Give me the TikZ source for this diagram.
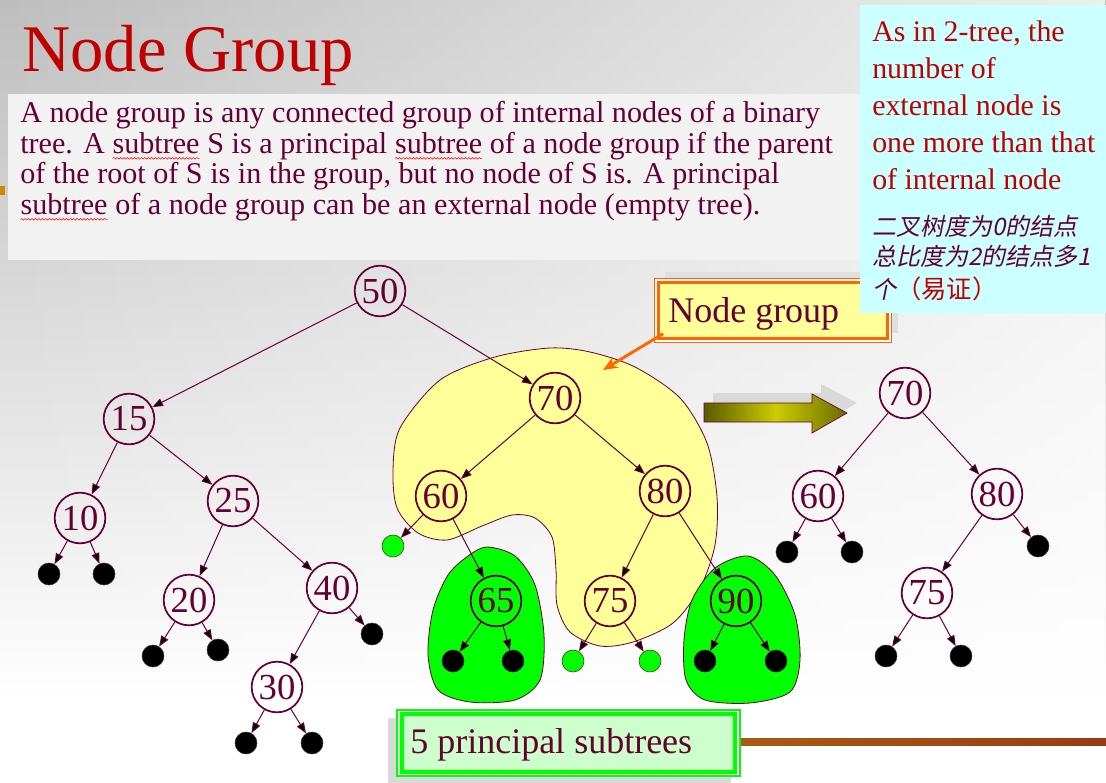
\documentclass[tikz,border=0pt]{standalone}
\usepackage{fontspec}
\setmainfont{Liberation Serif}
\newfontfamily\cjkfont[FakeSlant=0.2]{Noto Sans CJK SC}
\newfontfamily\cjkup{Noto Sans CJK SC}
\usetikzlibrary{arrows.meta,fadings,decorations.pathmorphing}
\definecolor{maroon}{RGB}{102,0,51}
\definecolor{titlered}{RGB}{192,0,0}
\definecolor{cyanbg}{RGB}{204,255,255}
\definecolor{ngyellow}{RGB}{255,255,153}
\definecolor{brightgreen}{RGB}{0,255,0}
\definecolor{palegreen}{RGB}{204,255,204}
\definecolor{ngorange}{RGB}{255,102,0}
\definecolor{oliveA}{RGB}{90,90,0}
\definecolor{oliveB}{RGB}{204,204,0}
\definecolor{textboxgray}{RGB}{242,242,242}
\definecolor{bggray}{RGB}{190,190,190}
\definecolor{markorange}{RGB}{204,136,0}
\definecolor{barA}{RGB}{170,90,20}
\definecolor{barB}{RGB}{200,120,40}
\definecolor{barC}{RGB}{150,60,20}
\newcommand\redwave[1]{\tikz[baseline=(w.base)]{\node[anchor=center, inner sep=0pt, outer sep=0pt] (w) {#1};
  \draw[red, line width=0.4pt, decorate, decoration={snake, amplitude=0.6pt, segment length=2.6pt}]
    ([yshift=-4pt]w.base west) -- ([yshift=-4pt]w.base east);}}
\tikzset{
  inode/.style={circle, draw=maroon, line width=1.3pt, minimum size=38pt, inner sep=0pt,
    text=maroon, font=\fontsize{27.5}{28}\selectfont},
  extb/.style={circle, fill=black, draw=black!80, minimum size=16.5pt, inner sep=0pt},
  extg/.style={circle, fill=brightgreen, draw=maroon!70!green, line width=0.5pt, minimum size=16.5pt, inner sep=0pt},
  tedge/.style={draw=maroon, line width=0.75pt, -{Triangle[length=8pt,width=6pt]}},
  blob/.style={draw=maroon, line width=0.6pt},
  bodyline/.style={anchor=base west, inner sep=0pt, text=maroon, font=\fontsize{22.6}{24}\selectfont},
  cyanline/.style={anchor=base west, inner sep=0pt, text=titlered, font=\fontsize{22.4}{24}\selectfont},
  cjkline/.style={anchor=base west, inner sep=0pt, text=maroon, font=\cjkfont\fontsize{18}{20}\selectfont},
}
\begin{document}
\begin{tikzpicture}[x=0.75pt,y=-0.75pt]
\useasboundingbox (0,0) rectangle (1106,782);
% background
\fill[white] (0,0) rectangle (1106,782);
\shade[top color=bggray, bottom color=white] (0,0) rectangle (1106,700);
\fill[white, path fading=west, opacity=0.75] (0,0) rectangle (1106,700);
\fill[markorange] (0,186) rectangle (5,195);

% text box
\fill[textboxgray] (8,94) rectangle (862,260);
\node[anchor=base west, inner sep=0pt, text=titlered, font=\fontsize{50}{50}\selectfont] (title) at (22,71) {Node Group};
\node[bodyline] (body1) at (20,122) {A node group is any connected group of internal nodes of a binary};
\node[bodyline] (body2) at (20,153) {tree. A \redwave{subtree} S is a principal \redwave{subtree} of a node group if the parent};
\node[bodyline] (body3) at (20,183) {of the root of S is in the group, but no node of S is. A principal};
\node[bodyline] (body4) at (20,214) {\redwave{subtree} of a node group can be an external node (empty tree).};

% node group box
\fill[gray!25] (665,272) rectangle (898,333);
\node[draw=ngorange, line width=2.8pt, fill=ngyellow, minimum width=172pt, minimum height=42pt, inner sep=0pt] (ngbox) at (773,310.5) {};
\draw[white, line width=0.8pt] (656,280) rectangle (890,341);
\draw[ngorange, line width=1pt] (654.5,278.5) rectangle (891.5,342.5);
\node[anchor=base west, inner sep=0pt, text=maroon, font=\fontsize{27}{30}\selectfont] (ngtext) at (668,322) {Node group};

% cyan box
\fill[cyanbg] (860,5) rectangle (1106,313);
\node[cyanline] (c1) at (872,41) {As in 2-tree, the};
\node[cyanline] (c2) at (872,78) {number of};
\node[cyanline] (c3) at (872,115) {external node is};
\node[cyanline] (c4) at (872,152) {one more than that};
\node[cyanline] (c5) at (872,189) {of internal node};
\node[cjkline] (z1) at (872,235) {二叉树度为0的结点};
\node[cjkline] (z2) at (872,265) {总比度为2的结点多1};
\node[cjkline] (z3) at (872,298) {个{\cjkup\fontsize{19}{20}\selectfont\color{titlered}（易证）}};

% blobs
\filldraw[blob, fill=ngyellow] plot[smooth cycle] coordinates {
 (550,348) (590,352) (635,367) (680,398) (707,443) (717,497) (715,545) (700,588)
 (673,623) (633,642) (600,646) (570,632) (557,605) (556,570) (552,537) (535,518)
 (512,515) (482,526) (447,540) (418,533) (397,508) (393,470) (400,428) (440,380) (495,357)};
\filldraw[blob, fill=brightgreen] plot[smooth cycle] coordinates {
 (487,547) (515,556) (535,585) (544,635) (540,680) (515,700) (470,702) (438,690)
 (428,655) (433,610) (448,575) (468,556)};
\filldraw[blob, fill=brightgreen] plot[smooth cycle] coordinates {
 (748,556) (775,575) (795,615) (800,660) (790,692) (750,703) (705,700) (686,680)
 (684,640) (692,600) (715,568)};

% node group pointer
\coordinate (ngtip) at (603,370);
\draw[ngorange, line width=2.2pt, -{Stealth[length=11pt,width=9pt]}] ([xshift=5pt,yshift=5pt]ngbox.south west) -- (ngtip);

% left tree
\node[inode] (n50) at (380,291) {50};
\node[inode] (n15) at (129,419) {15};
\node[inode] (n10) at (80,518) {10};
\node[inode] (n25) at (233,501) {25};
\node[inode] (n20) at (189,600) {20};
\node[inode] (n40) at (332,588) {40};
\node[inode] (n30) at (277,687) {30};
\node[extb] (b1) at (49,574) {};
\node[extb] (b2) at (104,574) {};
\node[extb] (b3) at (153,656) {};
\node[extb] (b4) at (218,650) {};
\node[extb] (b5) at (372,634) {};
\node[extb] (b6) at (246,743) {};
\node[extb] (b7) at (312,743) {};

% middle tree
\node[inode] (n70) at (555,398) {70};
\node[inode] (n60) at (441,496) {60};
\node[inode] (n80) at (665,491) {80};
\node[inode] (n65) at (496,601) {65};
\node[inode] (n75) at (610,601) {75};
\node[inode] (n90) at (736,601) {90};
\node[extg] (g1) at (393,546) {};
\node[extg] (g2) at (573,661) {};
\node[extg] (g3) at (650,661) {};
\node[extb] (b8) at (453,661) {};
\node[extb] (b9) at (513,661) {};
\node[extb] (b10) at (705,661) {};
\node[extb] (b11) at (776,661) {};

% right tree
\node[inode] (r70) at (905,393) {70};
\node[inode] (r60) at (818,496) {60};
\node[inode] (r80) at (997,494) {80};
\node[inode] (r75) at (927,593) {75};
\node[extb] (rb1) at (787,552) {};
\node[extb] (rb2) at (852,552) {};
\node[extb] (rb3) at (1038,546) {};
\node[extb] (rb4) at (886,656) {};
\node[extb] (rb5) at (961,656) {};

% edges
\foreach \a/\b in {n50/n15, n50/n70, n15/n10, n15/n25, n10/b1, n10/b2, n25/n20, n25/n40,
  n20/b3, n20/b4, n40/n30, n40/b5, n30/b6, n30/b7,
  n70/n60, n70/n80, n60/g1, n60/n65, n80/n75, n80/n90, n65/b8, n65/b9, n75/g2, n75/g3,
  n90/b10, n90/b11,
  r70/r60, r70/r80, r60/rb1, r60/rb2, r80/r75, r80/rb3, r75/rb4, r75/rb5}
  \draw[tedge] (\a) -- (\b);

% gradient arrow
\fill[gray!30] (713,393) -- (821,393) -- (821,384) -- (857,403) -- (821,423) -- (821,412) -- (713,412) -- cycle;
\shade[left color=oliveA, right color=oliveA!85!oliveB, middle color=oliveB, draw=maroon, line width=0.5pt]
  (704,403) -- (812,403) -- (812,394) -- (847,413) -- (812,433) -- (812,422) -- (704,422) -- cycle;

% bottom box
\fill[gray!30] (388,718) rectangle (731,786);
\node[draw=brightgreen, line width=2.8pt, fill=palegreen, minimum width=250pt, minimum height=43pt, inner sep=0pt] (psbox) at (568.5,743) {};
\draw[white, line width=0.8pt] (398.5,711.5) rectangle (738.5,774.5);
\draw[brightgreen, line width=1pt] (397,710) rectangle (740,776);
\node[anchor=base west, inner sep=0pt, text=maroon, font=\fontsize{27}{30}\selectfont] (pstext) at (410,753) {5 principal subtrees};

% decorative bar
\shade[left color=barA, middle color=barB, right color=barC] (741,738) rectangle (1106,745);
\end{tikzpicture}
\end{document}
